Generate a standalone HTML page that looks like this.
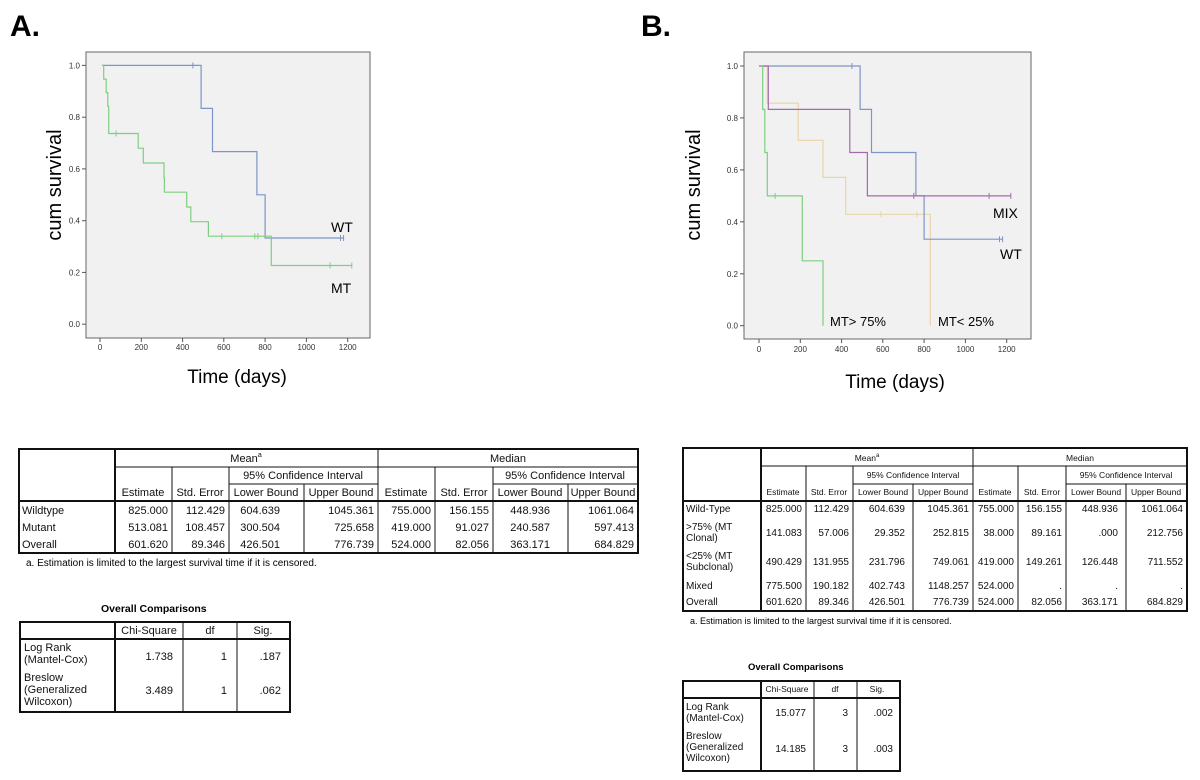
<!DOCTYPE html>
<html><head><meta charset="utf-8"><style>
html,body{margin:0;padding:0;background:#fff;}
svg{display:block;font-family:"Liberation Sans",sans-serif;}
.tk{font-size:8px;fill:#333;}
.t{font-size:11px;fill:#111;}
.s{font-size:10px;fill:#111;}
.h{font-size:8.5px;fill:#111;}
</style></head><body>
<svg width="1200" height="780" viewBox="0 0 1200 780" xmlns="http://www.w3.org/2000/svg">
<text x="10" y="36" font-size="30" font-weight="bold">A.</text>
<text x="641" y="36" font-size="30" font-weight="bold">B.</text>

<!-- Panel A -->
<rect x="86" y="52" width="284" height="286" fill="#f1f1f1" stroke="#666" stroke-width="1"/>
<g stroke="#555" stroke-width="1">
<line x1="82" y1="65.4" x2="86" y2="65.4"/><line x1="82" y1="117.2" x2="86" y2="117.2"/><line x1="82" y1="168.9" x2="86" y2="168.9"/><line x1="82" y1="220.7" x2="86" y2="220.7"/><line x1="82" y1="272.4" x2="86" y2="272.4"/><line x1="82" y1="324.2" x2="86" y2="324.2"/>
<line x1="100" y1="338" x2="100" y2="342"/><line x1="141.3" y1="338" x2="141.3" y2="342"/><line x1="182.6" y1="338" x2="182.6" y2="342"/><line x1="223.8" y1="338" x2="223.8" y2="342"/><line x1="265.1" y1="338" x2="265.1" y2="342"/><line x1="306.4" y1="338" x2="306.4" y2="342"/><line x1="347.7" y1="338" x2="347.7" y2="342"/>
</g>
<g class="tk" text-anchor="end"><text x="80" y="68.4">1.0</text><text x="80" y="120.2">0.8</text><text x="80" y="171.9">0.6</text><text x="80" y="223.7">0.4</text><text x="80" y="275.4">0.2</text><text x="80" y="327.2">0.0</text></g>
<g class="tk" text-anchor="middle"><text x="100" y="350">0</text><text x="141.3" y="350">200</text><text x="182.6" y="350">400</text><text x="223.8" y="350">600</text><text x="265.1" y="350">800</text><text x="306.4" y="350">1000</text><text x="347.7" y="350">1200</text></g>
<path d="M102.1,65.4 H201.1 V108.4 H212.5 V151.6 H256.9 V194.8 H265.1 V238 H343.6" fill="none" stroke="#7d95c9" stroke-width="1.2"/>
<path d="M102.1,65.4 H103.7 V79.1 H106.2 V92.6 H107.8 V106.3 H108.7 V133.5 H138.2 V148.2 H143.3 V163 H164 V177.7 H164.4 V192.2 H186.7 V207 H190.8 V221.7 H208.4 V236.2 H271.3 V265.5 H351.8" fill="none" stroke="#7fcf80" stroke-width="1.2"/>
<g stroke="#7d95c9" stroke-width="1"><path d="M192.9,62.4v6 M340.5,235v6 M343.6,235v6"/></g>
<g stroke="#7fcf80" stroke-width="1"><path d="M116.1,130.5v6 M221.8,233.2v6 M254.8,233.2v6 M257.9,233.2v6 M330.1,262.5v6 M351.8,262.5v6"/></g>
<text x="331" y="232" font-size="14">WT</text>
<text x="331" y="293" font-size="14">MT</text>
<text transform="translate(61,185) rotate(-90)" font-size="20" text-anchor="middle">cum survival</text>
<text x="237" y="383" font-size="19" text-anchor="middle">Time (days)</text>

<!-- Panel B -->
<rect x="744" y="52" width="287" height="287" fill="#f1f1f1" stroke="#666" stroke-width="1"/>
<g stroke="#555" stroke-width="1">
<line x1="740" y1="66" x2="744" y2="66"/><line x1="740" y1="117.9" x2="744" y2="117.9"/><line x1="740" y1="169.9" x2="744" y2="169.9"/><line x1="740" y1="221.8" x2="744" y2="221.8"/><line x1="740" y1="273.8" x2="744" y2="273.8"/><line x1="740" y1="325.7" x2="744" y2="325.7"/>
<line x1="759" y1="339" x2="759" y2="343"/><line x1="800.3" y1="339" x2="800.3" y2="343"/><line x1="841.6" y1="339" x2="841.6" y2="343"/><line x1="882.8" y1="339" x2="882.8" y2="343"/><line x1="924.1" y1="339" x2="924.1" y2="343"/><line x1="965.4" y1="339" x2="965.4" y2="343"/><line x1="1006.7" y1="339" x2="1006.7" y2="343"/>
</g>
<g class="tk" text-anchor="end"><text x="738" y="69">1.0</text><text x="738" y="120.9">0.8</text><text x="738" y="172.9">0.6</text><text x="738" y="224.8">0.4</text><text x="738" y="276.8">0.2</text><text x="738" y="328.7">0.0</text></g>
<g class="tk" text-anchor="middle"><text x="759" y="352">0</text><text x="800.3" y="352">200</text><text x="841.6" y="352">400</text><text x="882.8" y="352">600</text><text x="924.1" y="352">800</text><text x="965.4" y="352">1000</text><text x="1006.7" y="352">1200</text></g>
<path d="M761,66 H767.3 V103.1 H798.2 V140.3 H823 V177.4 H845.7 V214.3 H930.3 V325.7" fill="none" stroke="#ead5ab" stroke-width="1.2"/>
<path d="M761.1,66 H860.1 V109.4 H871.5 V152.5 H915.9 V195.9 H924.1 V239.2 H1002.6" fill="none" stroke="#7d95c9" stroke-width="1.2"/>
<path d="M759,66 H768.3 V109.4 H849.8 V152.5 H867.4 V195.9 H1010.8" fill="none" stroke="#a56aab" stroke-width="1.2"/>
<path d="M761.1,66 H762.7 V109.4 H764.8 V152.5 H767.3 V195.9 H802.3 V260.8 H823 V325.7" fill="none" stroke="#7fcf80" stroke-width="1.2"/>
<g stroke="#7d95c9"><path d="M851.9,63v6 M999.5,236.2v6 M1002.6,236.2v6"/></g>
<g stroke="#a56aab"><path d="M913.8,192.9v6 M989.1,192.9v6 M1010.8,192.9v6"/></g>
<g stroke="#ead5ab"><path d="M880.8,211.3v6 M916.9,211.3v6"/></g>
<g stroke="#7fcf80"><path d="M775.1,192.9v6"/></g>
<text x="993" y="218" font-size="14">MIX</text>
<text x="1000" y="259" font-size="14">WT</text>
<text x="830" y="326" font-size="13">MT&gt; 75%</text>
<text x="938" y="326" font-size="13">MT&lt; 25%</text>
<text transform="translate(700,185) rotate(-90)" font-size="20" text-anchor="middle">cum survival</text>
<text x="895" y="388" font-size="19" text-anchor="middle">Time (days)</text>

<!-- Table A -->
<g fill="none" stroke="#111">
<rect x="19" y="449" width="619" height="104" stroke-width="2"/>
<line x1="115" y1="449" x2="115" y2="553" stroke-width="2"/>
<line x1="19" y1="501" x2="638" y2="501" stroke-width="2"/>
<line x1="378" y1="449" x2="378" y2="553"/>
<line x1="115" y1="467" x2="638" y2="467"/>
<line x1="229" y1="484" x2="378" y2="484"/><line x1="493" y1="484" x2="638" y2="484"/>
<line x1="172" y1="467" x2="172" y2="553"/><line x1="229" y1="467" x2="229" y2="553"/><line x1="304" y1="484" x2="304" y2="553"/>
<line x1="435" y1="467" x2="435" y2="553"/><line x1="493" y1="467" x2="493" y2="553"/><line x1="568" y1="484" x2="568" y2="553"/>
</g>
<g class="t" text-anchor="middle">
<text x="246" y="462">Mean<tspan font-size="7" dy="-5">a</tspan></text>
<text x="508" y="462">Median</text>
<text x="303" y="479">95% Confidence Interval</text>
<text x="565" y="479">95% Confidence Interval</text>
<text x="143" y="496">Estimate</text><text x="200" y="496">Std. Error</text><text x="266" y="496">Lower Bound</text><text x="341" y="496">Upper Bound</text>
<text x="406" y="496">Estimate</text><text x="464" y="496">Std. Error</text><text x="530" y="496">Lower Bound</text><text x="603" y="496">Upper Bound</text>
</g>
<g class="t"><text x="22" y="514">Wildtype</text><text x="22" y="531">Mutant</text><text x="22" y="548">Overall</text></g>
<g class="t" text-anchor="end">
<text x="168" y="514">825.000</text><text x="225" y="514">112.429</text><text x="280" y="514">604.639</text><text x="374" y="514">1045.361</text><text x="431" y="514">755.000</text><text x="489" y="514">156.155</text><text x="550" y="514">448.936</text><text x="634" y="514">1061.064</text>
<text x="168" y="531">513.081</text><text x="225" y="531">108.457</text><text x="280" y="531">300.504</text><text x="374" y="531">725.658</text><text x="431" y="531">419.000</text><text x="489" y="531">91.027</text><text x="550" y="531">240.587</text><text x="634" y="531">597.413</text>
<text x="168" y="548">601.620</text><text x="225" y="548">89.346</text><text x="280" y="548">426.501</text><text x="374" y="548">776.739</text><text x="431" y="548">524.000</text><text x="489" y="548">82.056</text><text x="550" y="548">363.171</text><text x="634" y="548">684.829</text>
</g>
<text x="26" y="566" font-size="10">a. Estimation is limited to the largest survival time if it is censored.</text>
<text x="101" y="612" font-size="10.5" font-weight="bold">Overall Comparisons</text>
<g fill="none" stroke="#111">
<rect x="20" y="622" width="270" height="90" stroke-width="2"/>
<line x1="115" y1="622" x2="115" y2="712" stroke-width="2"/>
<line x1="20" y1="639" x2="290" y2="639" stroke-width="2"/>
<line x1="183" y1="622" x2="183" y2="712"/><line x1="237" y1="622" x2="237" y2="712"/>
</g>
<g class="t">
<text x="149" y="634" text-anchor="middle">Chi-Square</text><text x="210" y="634" text-anchor="middle">df</text><text x="263" y="634" text-anchor="middle">Sig.</text>
<text x="24" y="651">Log Rank</text><text x="24" y="663">(Mantel-Cox)</text>
<text x="24" y="681">Breslow</text><text x="24" y="693">(Generalized</text><text x="24" y="705">Wilcoxon)</text>
<g text-anchor="end"><text x="173" y="660">1.738</text><text x="227" y="660">1</text><text x="281" y="660">.187</text>
<text x="173" y="694">3.489</text><text x="227" y="694">1</text><text x="281" y="694">.062</text></g>
</g>

<!-- Table B -->
<g fill="none" stroke="#111">
<rect x="683" y="448" width="504" height="163" stroke-width="2"/>
<line x1="761" y1="448" x2="761" y2="611" stroke-width="2"/>
<line x1="683" y1="501" x2="1187" y2="501" stroke-width="2"/>
<line x1="973" y1="448" x2="973" y2="611"/>
<line x1="761" y1="466" x2="1187" y2="466"/>
<line x1="853" y1="484" x2="973" y2="484"/><line x1="1066" y1="484" x2="1187" y2="484"/>
<line x1="806" y1="466" x2="806" y2="611"/><line x1="853" y1="466" x2="853" y2="611"/><line x1="913" y1="484" x2="913" y2="611"/>
<line x1="1018" y1="466" x2="1018" y2="611"/><line x1="1066" y1="466" x2="1066" y2="611"/><line x1="1126" y1="484" x2="1126" y2="611"/>
</g>
<g class="h" text-anchor="middle">
<text x="867" y="461">Mean<tspan font-size="6" dy="-4">a</tspan></text>
<text x="1080" y="461">Median</text>
<text x="913" y="478">95% Confidence Interval</text>
<text x="1126" y="478">95% Confidence Interval</text>
<text x="783" y="495">Estimate</text><text x="829" y="495">Std. Error</text><text x="883" y="495">Lower Bound</text><text x="943" y="495">Upper Bound</text>
<text x="995" y="495">Estimate</text><text x="1042" y="495">Std. Error</text><text x="1096" y="495">Lower Bound</text><text x="1156" y="495">Upper Bound</text>
</g>
<g class="s">
<text x="686" y="512">Wild-Type</text>
<text x="686" y="530">&gt;75% (MT</text><text x="686" y="541">Clonal)</text>
<text x="686" y="559">&lt;25% (MT</text><text x="686" y="570">Subclonal)</text>
<text x="686" y="589">Mixed</text><text x="686" y="605">Overall</text>
</g>
<g class="s" text-anchor="end">
<text x="802" y="512">825.000</text><text x="849" y="512">112.429</text><text x="905" y="512">604.639</text><text x="969" y="512">1045.361</text><text x="1014" y="512">755.000</text><text x="1062" y="512">156.155</text><text x="1118" y="512">448.936</text><text x="1183" y="512">1061.064</text>
<text x="802" y="536">141.083</text><text x="849" y="536">57.006</text><text x="905" y="536">29.352</text><text x="969" y="536">252.815</text><text x="1014" y="536">38.000</text><text x="1062" y="536">89.161</text><text x="1118" y="536">.000</text><text x="1183" y="536">212.756</text>
<text x="802" y="565">490.429</text><text x="849" y="565">131.955</text><text x="905" y="565">231.796</text><text x="969" y="565">749.061</text><text x="1014" y="565">419.000</text><text x="1062" y="565">149.261</text><text x="1118" y="565">126.448</text><text x="1183" y="565">711.552</text>
<text x="802" y="589">775.500</text><text x="849" y="589">190.182</text><text x="905" y="589">402.743</text><text x="969" y="589">1148.257</text><text x="1014" y="589">524.000</text><text x="1062" y="589">.</text><text x="1118" y="589">.</text><text x="1183" y="589">.</text>
<text x="802" y="605">601.620</text><text x="849" y="605">89.346</text><text x="905" y="605">426.501</text><text x="969" y="605">776.739</text><text x="1014" y="605">524.000</text><text x="1062" y="605">82.056</text><text x="1118" y="605">363.171</text><text x="1183" y="605">684.829</text>
</g>
<text x="690" y="624" font-size="9">a. Estimation is limited to the largest survival time if it is censored.</text>
<text x="748" y="670" font-size="9.5" font-weight="bold">Overall Comparisons</text>
<g fill="none" stroke="#111">
<rect x="683" y="681" width="217" height="90" stroke-width="2"/>
<line x1="761" y1="681" x2="761" y2="771" stroke-width="2"/>
<line x1="683" y1="698" x2="900" y2="698" stroke-width="2"/>
<line x1="814" y1="681" x2="814" y2="771"/><line x1="857" y1="681" x2="857" y2="771"/>
</g>
<g class="s">
<text class="h" x="787" y="692" text-anchor="middle">Chi-Square</text><text class="h" x="835" y="692" text-anchor="middle">df</text><text class="h" x="877" y="692" text-anchor="middle">Sig.</text>
<text x="686" y="710">Log Rank</text><text x="686" y="721">(Mantel-Cox)</text>
<text x="686" y="739">Breslow</text><text x="686" y="750">(Generalized</text><text x="686" y="761">Wilcoxon)</text>
<g text-anchor="end"><text x="806" y="716">15.077</text><text x="848" y="716">3</text><text x="893" y="716">.002</text>
<text x="806" y="752">14.185</text><text x="848" y="752">3</text><text x="893" y="752">.003</text></g>
</g>
</svg>
</body></html>
